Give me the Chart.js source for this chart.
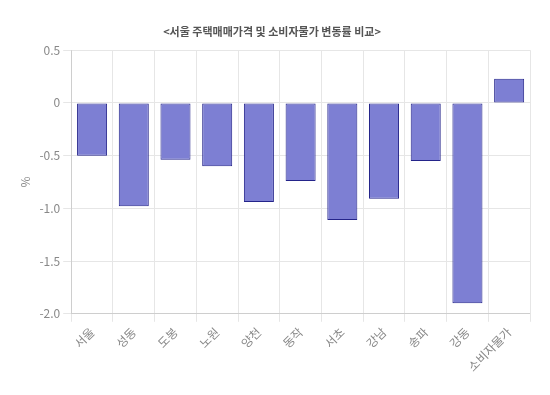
<!DOCTYPE html>
<html>
<head>
<meta charset="utf-8">
<script src="https://cdn.jsdelivr.net/npm/chart.js@4"></script>
<style>
  html, body { margin: 0; padding: 0; background: #fff; }
  #wrap { width: 550px; height: 395px; }
</style>
</head>
<body>
<div id="wrap"><canvas id="chart"></canvas></div>
<script>
// Regions and rate of change (%)
const labels = ["서울", "성동", "도봉", "노원", "양천", "동작", "서초", "강남", "송파", "강동", "소비자물가"];
const values = [-0.50, -0.98, -0.54, -0.60, -0.94, -0.74, -1.11, -0.91, -0.55, -1.90, 0.23];

const fontFamily = "'Noto Sans CJK KR', 'Noto Sans', sans-serif";

new Chart(document.getElementById("chart"), {
  type: "bar",
  data: {
    labels: labels,
    datasets: [
      {
        data: values,
        backgroundColor: "#7d7fd3",
        borderColor: "#24248a",
        borderWidth: 1,
        borderSkipped: false,
      },
    ],
  },
  options: {
    responsive: true,
    maintainAspectRatio: false,
    animation: false,
    layout: { padding: { left: 14, right: 20, top: 25, bottom: 18 } },
    plugins: {
      legend: { display: false },
      tooltip: { enabled: false },
      title: {
        display: true,
        text: "<서울 주택매매가격 및 소비자물가 변동률 비교>",
        color: "#555",
        font: { family: fontFamily, size: 11, weight: "bold" },
        padding: { top: 0, bottom: 12 },
      },
    },
    scales: {
      x: {
        grid: { color: "#e6e6e6" },
        ticks: {
          color: "#888",
          font: { family: fontFamily, size: 12 },
          maxRotation: 45,
          minRotation: 45,
        },
      },
      y: {
        min: -2.0,
        max: 0.5,
        grid: { color: "#e6e6e6" },
        title: {
          display: true,
          text: "%",
          color: "#888",
          font: { family: fontFamily, size: 12 },
        },
        ticks: {
          stepSize: 0.5,
          color: "#888",
          font: { family: fontFamily, size: 12 },
          callback: (v) => (v === 0 ? "0" : v.toFixed(1)),
        },
      },
    },
  },
});
</script>
</body>
</html>
